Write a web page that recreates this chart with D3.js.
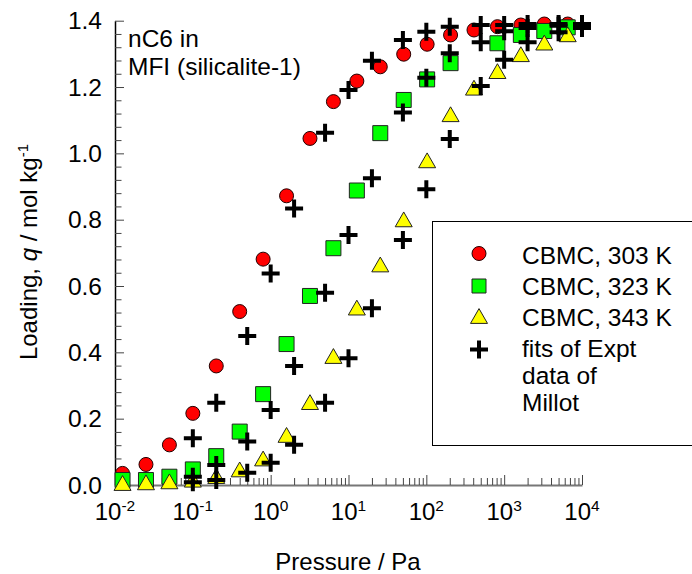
<!DOCTYPE html>
<html>
<head>
<meta charset="utf-8">
<script src="https://cdn.jsdelivr.net/npm/d3@7"></script>
<style>
  html, body { margin: 0; padding: 0; background: #fff; }
  svg text { font-family: "Liberation Sans", Arial, sans-serif; fill: #000; }
</style>
</head>
<body>
<svg id="chart" width="692" height="574"></svg>
<script>
// CBMC simulated loadings (mol/kg) at the simulated pressures (Pa)
const cbmcPressure = [0.0125, 0.025, 0.05, 0.1, 0.2, 0.4, 0.8, 1.6, 3.2, 6.4,
                      12.8, 25.6, 51.2, 102.4, 204.8, 409.6, 819.2, 1638.4, 3276.8, 6553.6];
const cbmc303 = [0.035, 0.062, 0.121, 0.216, 0.359, 0.523, 0.681, 0.872, 1.045, 1.156,
                 1.218, 1.261, 1.299, 1.329, 1.357, 1.372, 1.382, 1.387, 1.390, 1.390];
const cbmcPressure323 = [0.0125, 0.025, 0.05, 0.1, 0.2, 0.4, 0.8, 1.6, 3.2, 6.4,
                         12.8, 25.6, 51.2, 102.4, 204.8, 819.2, 1638.4, 3276.8, 6553.6];
const cbmc323 = [0.015, 0.015, 0.025, 0.047, 0.087, 0.161, 0.274, 0.425, 0.570, 0.714,
                 0.888, 1.061, 1.161, 1.223, 1.272, 1.332, 1.357, 1.369, 1.380];
const cbmc343 = [0.006, 0.008, 0.011, 0.016, 0.027, 0.047, 0.080, 0.151, 0.250, 0.389,
                 0.535, 0.665, 0.801, 0.979, 1.118, 1.198, 1.248, 1.299, 1.334, 1.359];

// Fits of the experimental isotherms of Millot
const fitPressure = [0.1, 0.2, 0.5, 1, 2, 5, 10, 20, 50, 100, 200, 500, 1000, 2000, 5000, 10000];
const fit303 = [0.141, 0.248, 0.449, 0.638, 0.834, 1.062, 1.191, 1.279, 1.342, 1.367, 1.382, 1.387, 1.387, 1.390, 1.390, 1.390];
const fit323 = [0.025, 0.060, 0.131, 0.226, 0.359, 0.580, 0.754, 0.925, 1.123, 1.228, 1.302, 1.335, 1.368, 1.378, 1.385, 1.388];
const fit343 = [0.008, 0.015, 0.037, 0.067, 0.121, 0.248, 0.382, 0.533, 0.739, 0.892, 1.043, 1.203, 1.282, 1.335, 1.365, 1.378];

const xMajorTicks = [1e-2, 1e-1, 1e0, 1e1, 1e2, 1e3, 1e4];
const xExponents = ["-2", "-1", "0", "1", "2", "3", "4"];
const yMajorTicks = [0, 0.2, 0.4, 0.6, 0.8, 1.0, 1.2, 1.4];

const legendLabels = ["CBMC, 303 K", "CBMC, 323 K", "CBMC, 343 K", ["fits of Expt", "data of", "Millot"]];

const svg = d3.select("#chart");
const x = d3.scaleLog().domain([1e-2, 1e4]).range([115, 582]);
const y = d3.scaleLinear().domain([0, 1.4]).range([485, 20.7]);

// minor ticks: 2..9 in every decade, and every 0.04 on the loading axis
const xMinor = [];
for (let e = -2; e < 4; e++) for (let k = 2; k <= 9; k++) xMinor.push(k * Math.pow(10, e));
const yMinor = d3.range(0, 71).map(i => i * 0.02).filter((v, i) => i % 2 === 0 && i % 10 !== 0);

// x axis (ticks pointing inward)
const gx = svg.append("g").attr("transform", "translate(0,485)");
gx.call(d3.axisBottom(x).tickValues(xMajorTicks).tickSize(-10).tickSizeOuter(0).tickFormat(""));
const gxm = svg.append("g").attr("transform", "translate(0,485)");
gxm.call(d3.axisBottom(x).tickValues(xMinor).tickSize(-7).tickSizeOuter(0).tickFormat(""));
gxm.select(".domain").remove();
gx.select(".domain").attr("stroke", "#777").attr("stroke-width", 2);
svg.selectAll("g .tick line").attr("stroke", "#444").attr("stroke-width", 1);

// decade labels with superscript exponents
const xl = svg.append("g");
xMajorTicks.forEach((v, i) => {
  const t = xl.append("text")
    .attr("x", x(v)).attr("y", 520)
    .attr("text-anchor", "middle")
    .style("font-size", "24px");
  t.append("tspan").text("10");
  t.append("tspan").attr("dy", -9).style("font-size", "15.5px").text(xExponents[i]);
});

// y axis (ticks pointing inward)
const gy = svg.append("g").attr("transform", "translate(115,0)");
gy.call(d3.axisLeft(y).tickValues(yMajorTicks).tickSize(-9).tickSizeOuter(0).tickFormat(""));
const gym = svg.append("g").attr("transform", "translate(115,0)");
gym.call(d3.axisLeft(y).tickValues(yMinor).tickSize(-6.5).tickSizeOuter(0).tickFormat(""));
gym.select(".domain").remove();
gy.select(".domain").attr("stroke", "#000").attr("stroke-width", 1.5);
gy.selectAll(".tick line").attr("stroke", "#444");
gym.selectAll(".tick line").attr("stroke", "#444");

svg.append("g").selectAll("text").data(yMajorTicks).join("text")
  .attr("x", 102).attr("y", d => y(d))
  .attr("dy", "0.35em")
  .attr("text-anchor", "end")
  .style("font-size", "24.5px")
  .text(d => d.toFixed(1));

// axis titles
svg.append("text")
  .attr("x", 348).attr("y", 570)
  .attr("text-anchor", "middle")
  .style("font-size", "24px")
  .text("Pressure / Pa");

const yt = svg.append("text")
  .attr("transform", "translate(37,252) rotate(-90)")
  .attr("text-anchor", "middle")
  .style("font-size", "24px");
yt.append("tspan").text("Loading, ");
yt.append("tspan").style("font-style", "italic").text("q");
yt.append("tspan").text(" / mol kg");
yt.append("tspan").attr("dy", -9).style("font-size", "15px").text("-1");

// annotation
const note = svg.append("text").style("font-size", "24.5px");
note.append("tspan").attr("x", 128).attr("y", 47).text("nC6 in");
note.append("tspan").attr("x", 128).attr("y", 75).text("MFI (silicalite-1)");

// markers
const circlePath = d3.symbol().type(d3.symbolCircle).size(Math.PI * 7 * 7)();
const squarePath = d3.symbol().type(d3.symbolSquare).size(15 * 15)();
// triangle centred on its bounding box
const trianglePath = "M0,-7.4L8.5,7.4L-8.5,7.4Z";
const plusPath = "M-9,0H9M0,-9V9";

const series = [
  { p: cbmcPressure, q: cbmc303, path: circlePath, fill: "#ff0000", stroke: "#200" },
  { p: cbmcPressure323, q: cbmc323, path: squarePath, fill: "#00ff00", stroke: "#222" },
  { p: cbmcPressure, q: cbmc343, path: trianglePath, fill: "#ffff00", stroke: "#222" }
];
const marks = svg.append("g");
series.forEach(s => {
  marks.append("g").selectAll("path").data(s.p.map((p, i) => [p, s.q[i]])).join("path")
    .attr("d", s.path)
    .attr("transform", d => `translate(${x(d[0])},${y(d[1])})`)
    .attr("fill", s.fill)
    .attr("stroke", s.stroke)
    .attr("stroke-width", 1);
});

[fit303, fit323, fit343].forEach(f => {
  marks.append("g").selectAll("path").data(fitPressure.map((p, i) => [p, f[i]])).join("path")
    .attr("d", plusPath)
    .attr("transform", d => `translate(${x(d[0])},${y(d[1])})`)
    .attr("fill", "none")
    .attr("stroke", "#000")
    .attr("stroke-width", 4);
});

// legend
const lg = svg.append("g");
lg.append("rect")
  .attr("x", 432.5).attr("y", 221.5).attr("width", 300).attr("height", 224)
  .attr("fill", "#fff").attr("stroke", "#000").attr("stroke-width", 1);
const legendSym = [
  { path: circlePath, fill: "#ff0000", stroke: "#200", cy: 253.5 },
  { path: d3.symbol().type(d3.symbolSquare).size(14 * 14)(), fill: "#00ff00", stroke: "#222", cy: 286 },
  { path: trianglePath, fill: "#ffff00", stroke: "#222", cy: 316 },
  { path: plusPath, fill: "none", stroke: "#000", cy: 349.5, plus: true }
];
const rowBase = [263.5, 295, 326, 357];
legendSym.forEach((s, i) => {
  lg.append("path")
    .attr("d", s.path)
    .attr("transform", `translate(479,${s.cy})`)
    .attr("fill", s.fill)
    .attr("stroke", s.stroke)
    .attr("stroke-width", s.plus ? 4 : 1);
  const lines = Array.isArray(legendLabels[i]) ? legendLabels[i] : [legendLabels[i]];
  const t = lg.append("text").style("font-size", "24.5px");
  lines.forEach((ln, j) => {
    t.append("tspan").attr("x", 522).attr("y", rowBase[i] + j * 27).text(ln);
  });
});
</script>
</body>
</html>
